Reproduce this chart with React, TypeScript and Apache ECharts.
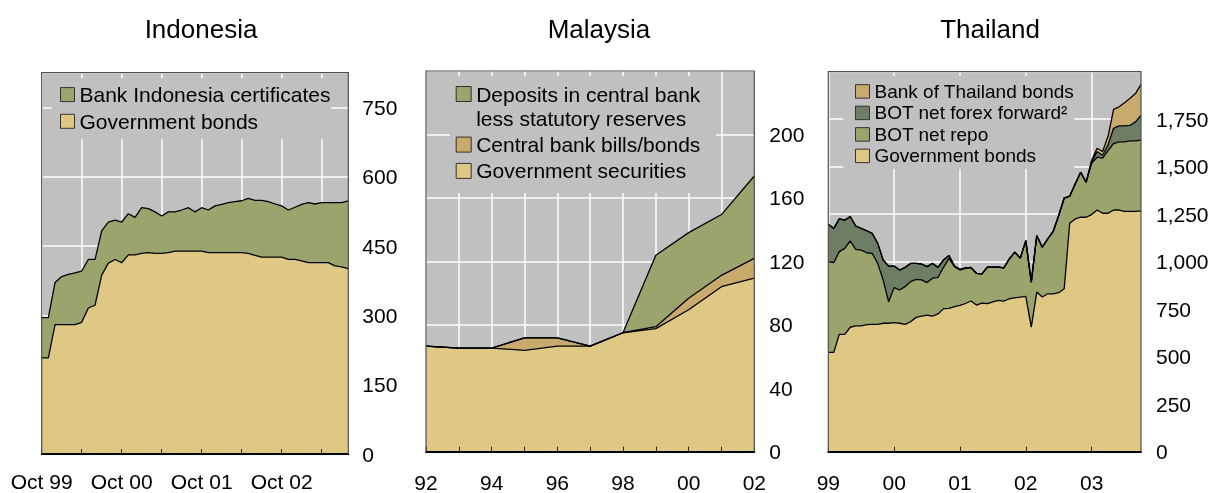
import React, { useEffect, useRef } from "react";
import * as echarts from "echarts";

const FONT = "'Liberation Sans', Arial, Helvetica, sans-serif";
const C_GOV = "#dfc883";
const C_GREEN = "#9ca46e";
const C_DARK = "#6e7e64";
const C_TAN = "#c8aa6c";
const C_BG = "#c0c0c0";
const C_FRAME = "#505050";

const MONTH_NAMES = ["Jan", "Feb", "Mar", "Apr", "May", "Jun", "Jul", "Aug", "Sep", "Oct", "Nov", "Dec"];
function monthLabels(startYear: number, startMonth: number, count: number): string[] {
  const out: string[] = [];
  for (let i = 0; i < count; i++) {
    const m = startMonth + i;
    const y = startYear + Math.floor(m / 12);
    out.push(`${MONTH_NAMES[m % 12]} ${String(y % 100).padStart(2, "0")}`);
  }
  return out;
}

// ---------- Indonesia (monthly, Oct 99 - Aug 03) ----------
const indoMonths = monthLabels(1999, 9, 47);
const indoGovBonds = [
  208, 208, 280, 280, 280, 280, 285, 316, 322, 387, 413, 421, 414, 431, 431, 434, 436, 434, 434, 436,
  439, 439, 439, 439, 439, 436, 436, 436, 436, 436, 436, 434, 430, 426, 426, 426, 426, 421, 421, 418,
  414, 414, 414, 414, 407, 405, 401,
];
const indoBICertificates = [
  87, 87, 91, 104, 109, 112, 111, 105, 99, 96, 89, 85, 88, 89, 81, 99, 95, 90, 81, 88,
  85, 89, 94, 85, 94, 92, 101, 104, 108, 110, 112, 119, 119, 123, 120, 115, 111, 107, 113, 122,
  130, 127, 130, 130, 137, 139, 147,
];

// ---------- Malaysia (annual, 92 - 02) ----------
const malYears = ["92", "93", "94", "95", "96", "97", "98", "99", "00", "01", "02"];
const malGovSecurities = [66.6, 65.3, 65.3, 63.9, 66.6, 66.6, 75, 77.6, 89.5, 104, 109.5];
const malCBBills = [0, 0, 0, 7.9, 5.2, 0, 0, 1.2, 7.2, 7.2, 12.4];
const malDeposits = [0, 0, 0, 0, 0, 0, 0, 45.1, 41.4, 38.3, 51.9];

// ---------- Thailand (monthly, Jan 99 - Oct 03) ----------
const thaiMonths = monthLabels(1999, 0, 58);
const thaiGovBonds = [
  523, 523, 618, 618, 655, 662, 662, 669, 670, 670, 676, 676, 679, 676, 670, 684, 707, 714, 719, 714,
  725, 753, 754, 763, 770, 780, 793, 772, 782, 779, 788, 796, 793, 805, 810, 814, 817, 656, 840, 814,
  831, 831, 837, 858, 1202, 1225, 1234, 1234, 1248, 1272, 1255, 1255, 1272, 1272, 1265, 1265, 1265, 1268,
];
const thaiNetRepo = [
  477, 472, 435, 452, 454, 403, 399, 378, 374, 321, 228, 113, 185, 175, 199, 211, 200, 190, 171, 199,
  193, 217, 263, 211, 186, 185, 175, 167, 154, 192, 183, 175, 175, 210, 240, 205, 294, 236, 298, 262,
  289, 329, 406, 477, 143, 184, 236, 184, 270, 278, 290, 330, 350, 359, 366, 371, 371, 372,
];
const thaiNetForex = [
  197, 180, 172, 149, 128, 123, 114, 116, 105, 106, 105, 188, 113, 105, 101, 96, 84, 84, 84, 78,
  52, 39, 15, 3, 4, 3, 2, 0, 0, 0, 0, 0, 0, 0, 0, 0, 0, 0, 0, 0,
  0, 0, 0, 0, 0, 0, 0, 0, 10, 29, 15, 30, 80, 84, 84, 82, 100, 130,
];
const thaiBOTBonds = [
  0, 0, 0, 0, 0, 0, 0, 0, 0, 0, 0, 0, 0, 0, 0, 0, 0, 0, 0, 0,
  0, 0, 0, 0, 0, 0, 0, 0, 0, 0, 0, 0, 0, 0, 0, 0, 0, 0, 0, 0,
  0, 0, 0, 0, 0, 0, 0, 0, 5, 18, 20, 45, 100, 100, 122, 142, 149, 163,
];

// ---------- layout ----------
const G1 = { left: 41.7, top: 72.7, width: 306.6, height: 381.4 };
const G2 = { left: 426, top: 71, width: 328.3, height: 380.7 };
const G3 = { left: 828.3, top: 71.7, width: 312.7, height: 380 };

const labelText = { fontFamily: FONT, fontSize: 21, color: "#000" };

function bottomAxis(gridIndex: number, data: string[], every: number, labelEvery: number, margin: number, formatter?: (v: string) => string) {
  return {
    type: "category",
    gridIndex,
    data,
    boundaryGap: false,
    position: "bottom",
    z: 10,
    axisLine: { show: true, onZero: false, lineStyle: { color: "#000", width: 2 } },
    axisTick: { show: true, inside: true, length: 5, interval: (i: number) => i % every === 0, lineStyle: { color: "#222", width: 1 } },
    axisLabel: { ...labelText, margin, interval: (i: number) => i % labelEvery === 0, formatter: formatter },
    splitLine: { show: false },
  };
}
function topAxis(gridIndex: number, data: string[], every: number) {
  return {
    type: "category",
    gridIndex,
    data,
    boundaryGap: false,
    position: "top",
    z: 0,
    axisLine: { show: false },
    axisTick: { show: false },
    axisLabel: { show: false },
    splitLine: { show: true, interval: (i: number) => i % every === 0, lineStyle: { color: "#fff", width: 1.5 } },
  };
}
function valueAxis(gridIndex: number, max: number, interval: number, margin: number, formatter?: (v: number) => string) {
  return {
    type: "value",
    gridIndex,
    position: "right",
    min: 0,
    max,
    interval,
    z: 0,
    axisLine: { show: false },
    axisTick: { show: false },
    axisLabel: { ...labelText, margin, showMaxLabel: false, showMinLabel: true, formatter },
    splitLine: { show: true, lineStyle: { color: "#fff", width: 1.5 } },
  };
}
function area(name: string, data: number[], stack: string, color: string, xAxisIndex: number, yAxisIndex: number) {
  return {
    type: "line",
    name,
    data,
    stack,
    xAxisIndex,
    yAxisIndex,
    symbol: "none",
    showSymbol: false,
    silent: true,
    itemStyle: { color },
    lineStyle: { color: "#000", width: 1.3 },
    areaStyle: { color, opacity: 1 },
    emphasis: { disabled: true },
  };
}
function frame(g: { left: number; top: number; width: number; height: number }) {
  const l = g.left, t = g.top, r = g.left + g.width, b = g.top + g.height;
  return {
    type: "polyline",
    z: 100,
    silent: true,
    shape: { points: [[l, b], [l, t], [r, t], [r, b]] },
    style: { stroke: C_FRAME, lineWidth: 1.2, fill: null },
  };
}
const legendBase = {
  orient: "vertical",
  backgroundColor: C_BG,
  icon: "rect",
  selectedMode: false,
  itemStyle: { borderColor: "#333", borderWidth: 1 },
};
const titleBase = {
  padding: 0,
  textAlign: "center",
  textVerticalAlign: "middle",
  textStyle: { fontFamily: FONT, fontSize: 26, fontWeight: "normal", color: "#000" },
};

const MAL_DEPOSITS = "Deposits in central bank less statutory reserves";

export default function App() {
  const ref = useRef<HTMLDivElement>(null);
  useEffect(() => {
    if (!ref.current) return;
    const chart = echarts.init(ref.current, null, { renderer: "svg" });
    const option: any = {
      animation: false,
      textStyle: { fontFamily: FONT },
      title: [
        { ...titleBase, text: "Indonesia", left: 201, top: 29 },
        { ...titleBase, text: "Malaysia", left: 599, top: 29 },
        { ...titleBase, text: "Thailand", left: 990, top: 29 },
      ],
      grid: [G1, G2, G3].map((g) => ({
        ...g,
        containLabel: false,
        outerBoundsMode: "none",
        show: true,
        backgroundColor: C_BG,
        borderWidth: 0,
      })),
      xAxis: [
        bottomAxis(0, indoMonths, 6, 12, 17),
        topAxis(0, indoMonths, 6),
        bottomAxis(1, malYears, 1, 2, 20),
        topAxis(1, malYears, 1),
        bottomAxis(2, thaiMonths, 12, 12, 20, (v: string) => v.split(" ")[1]),
        topAxis(2, thaiMonths, 12),
      ],
      yAxis: [
        valueAxis(0, 825, 150, 14),
        valueAxis(1, 240, 40, 15),
        valueAxis(2, 2000, 250, 15, (v: number) => v.toLocaleString("en-US")),
      ],
      legend: [
        {
          ...legendBase,
          left: 51.7,
          top: 78.3,
          padding: [4.3, 1, 6, 8.3],
          itemGap: 2.7,
          itemWidth: 14,
          itemHeight: 14,
          textStyle: { ...labelText, lineHeight: 24 },
          data: [
            { name: "Bank Indonesia certificates", itemStyle: { color: C_GREEN } },
            { name: "Government bonds", itemStyle: { color: C_GOV } },
          ],
        },
        {
          ...legendBase,
          left: 450,
          top: 76,
          padding: [-18.45, 16, 10, 5.7],
          itemGap: 2,
          itemWidth: 15,
          itemHeight: 15,
          textStyle: {
            ...labelText,
            lineHeight: 24.3,
            rich: {
              t1: { ...labelText, lineHeight: 48.6, height: 24.3, verticalAlign: "bottom" },
              t2: { ...labelText, lineHeight: 24.3 },
            },
          },
          formatter: (name: string) =>
            name === MAL_DEPOSITS ? "{t1|Deposits in central bank}\n{t2|less statutory reserves}" : name,
          data: [
            { name: MAL_DEPOSITS, itemStyle: { color: C_GREEN } },
            { name: "Central bank bills/bonds", itemStyle: { color: C_TAN } },
            { name: "Government securities", itemStyle: { color: C_GOV } },
          ],
        },
        {
          ...legendBase,
          left: 843.3,
          top: 76,
          padding: [4.65, 0, 2.35, 11.7],
          itemGap: 0,
          itemWidth: 14,
          itemHeight: 13.5,
          textStyle: { fontFamily: FONT, fontSize: 19, color: "#000", lineHeight: 21.5 },
          data: [
            { name: "Bank of Thailand bonds", itemStyle: { color: C_TAN } },
            { name: "BOT net forex forward²", itemStyle: { color: C_DARK } },
            { name: "BOT net repo", itemStyle: { color: C_GREEN } },
            { name: "Government bonds ", itemStyle: { color: C_GOV } },
          ],
        },
      ],
      series: [
        area("Government bonds", indoGovBonds, "indo", C_GOV, 0, 0),
        area("Bank Indonesia certificates", indoBICertificates, "indo", C_GREEN, 0, 0),
        area("Government securities", malGovSecurities, "mal", C_GOV, 2, 1),
        area("Central bank bills/bonds", malCBBills, "mal", C_TAN, 2, 1),
        area(MAL_DEPOSITS, malDeposits, "mal", C_GREEN, 2, 1),
        area("Government bonds ", thaiGovBonds, "thai", C_GOV, 4, 2),
        area("BOT net repo", thaiNetRepo, "thai", C_GREEN, 4, 2),
        area("BOT net forex forward²", thaiNetForex, "thai", C_DARK, 4, 2),
        area("Bank of Thailand bonds", thaiBOTBonds, "thai", C_TAN, 4, 2),
      ],
      graphic: [frame(G1), frame(G2), frame(G3)],
    };
    chart.setOption(option);
    return () => chart.dispose();
  }, []);
  return <div ref={ref} style={{ position: "fixed", left: 0, top: 0, width: "1211px", height: "493px" }} />;
}
